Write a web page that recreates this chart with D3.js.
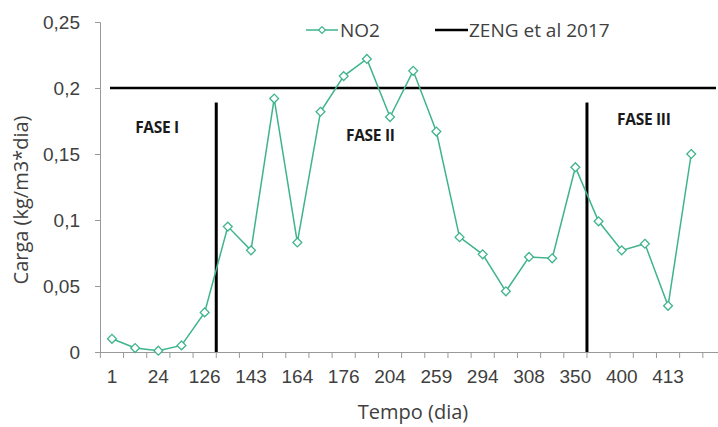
<!DOCTYPE html>
<html><head><meta charset="utf-8">
<script src="https://cdn.jsdelivr.net/npm/d3@7"></script>
<style>body{margin:0;background:#fff}svg{display:block;font-family:"Open Sans",Lato,sans-serif}</style>
</head><body><svg id="c" width="718" height="427"></svg>
<script>
const tickLabels = ["1","","24","","126","","143","","164","","176","","204","","259","","294","","308","","350","","400","","413","",""];
const no2 = [0.010,0.003,0.001,0.005,0.030,0.095,0.077,0.192,0.083,0.182,0.209,0.222,0.178,0.213,0.167,0.087,0.074,0.046,0.072,0.071,0.140,0.099,0.077,0.082,0.035,0.150];
const yTicks = [0,0.05,0.1,0.15,0.2,0.25];
const refValue = 0.2;
const phaseBounds = [5,21];
const phaseLabels = [{t:"FASE I",i:1.5,v:0.166},{t:"FASE II",i:10.6,v:0.160},{t:"FASE III",i:22.3,v:0.172}];

const svg = d3.select("#c");
const step = 23.17;
const x = d3.scaleBand().domain(d3.range(tickLabels.length)).range([100.4, 100.4+27*step]);
const y = d3.scaleLinear().domain([0,0.25]).range([352,22]);
const fmt = d => d===0?"0":String(d).replace(".",",");
const green = "#3fb48c";
const txt = "#404040";

// y axis
const ya = svg.append("g").attr("transform","translate(100,0)")
  .call(d3.axisLeft(y).tickValues(yTicks).tickFormat(fmt).tickSize(5).tickPadding(15));
ya.select(".domain").attr("stroke","#999");
ya.selectAll(".tick line").attr("stroke","#999");
ya.selectAll("text").attr("font-size",19).attr("fill",txt);

// x axis
const xa = svg.append("g").attr("transform","translate(0,352)")
  .call(d3.axisBottom(x).tickFormat(i=>tickLabels[i]).tickSize(0).tickPadding(18));
xa.select(".domain").attr("stroke","#999");
xa.selectAll("text").attr("font-size",19).attr("fill",txt);
svg.append("g").selectAll("line").data(d3.range(tickLabels.length+1)).join("line")
  .attr("x1",i=>x.range()[0]+i*x.step()).attr("x2",i=>x.range()[0]+i*x.step())
  .attr("y1",352).attr("y2",358).attr("stroke","#999");

// titles
svg.append("text").attr("x",413).attr("y",419).attr("text-anchor","middle")
  .attr("font-size",20).attr("fill",txt).text("Tempo (dia)");
svg.append("text").attr("transform","translate(28,200) rotate(-90)").attr("text-anchor","middle")
  .attr("font-size",20).attr("fill",txt).text("Carga (kg/m3*dia)");

// reference line
svg.append("line").attr("x1",110).attr("x2",716).attr("y1",y(refValue)).attr("y2",y(refValue))
  .attr("stroke","#000").attr("stroke-width",2.5);

// phase lines
svg.selectAll(".ph").data(phaseBounds).join("line")
  .attr("x1",i=>x(i)).attr("x2",i=>x(i)).attr("y1",y(0.189)).attr("y2",y(0))
  .attr("stroke","#000").attr("stroke-width",3);

phaseLabels.forEach(p=>svg.append("text").attr("x",x(Math.floor(p.i))+(p.i%1)*x.step()).attr("y",y(p.v))
  .attr("font-size",15.5).attr("font-weight","bold").attr("fill","#1a1a1a").attr("letter-spacing",-0.3).text(p.t));

// series
const cx = i => x(i)+x.bandwidth()/2;
svg.append("path").datum(no2).attr("fill","none").attr("stroke",green).attr("stroke-width",1.5)
  .attr("d",d3.line().x((d,i)=>cx(i)).y(d=>y(d)));
const diamond = d3.symbol().type(d3.symbolDiamond2).size(50);
svg.selectAll(".pt").data(no2).join("path")
  .attr("transform",(d,i)=>`translate(${cx(i)},${y(d)})`)
  .attr("d",diamond).attr("fill","#fff").attr("stroke",green).attr("stroke-width",1.3);

// legend
const lg = svg.append("g");
lg.append("line").attr("x1",306).attr("x2",338).attr("y1",30).attr("y2",30).attr("stroke",green).attr("stroke-width",1.5);
lg.append("path").attr("transform","translate(322,30)").attr("d",d3.symbol().type(d3.symbolDiamond2).size(30)).attr("fill","#fff").attr("stroke",green).attr("stroke-width",1.2);
lg.append("text").attr("x",340).attr("y",37).attr("font-size",19).attr("fill",txt).text("NO2");
lg.append("line").attr("x1",435).attr("x2",468).attr("y1",30).attr("y2",30).attr("stroke","#000").attr("stroke-width",2.5);
lg.append("text").attr("x",469).attr("y",37).attr("font-size",19).attr("fill",txt).text("ZENG et al 2017");
</script></body></html>
